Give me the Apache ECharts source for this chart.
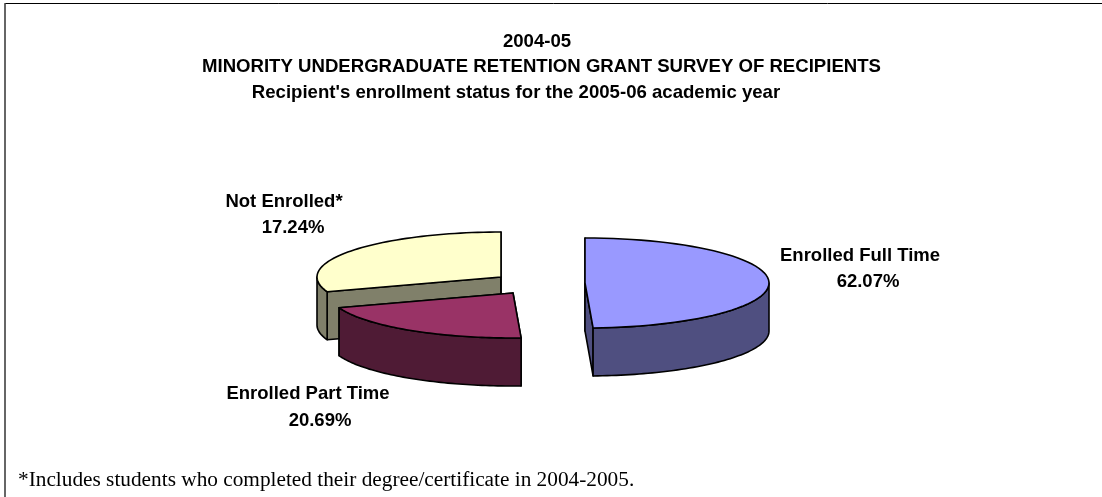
<!DOCTYPE html>
<html>
<head>
<meta charset="utf-8">
<style>
html,body{margin:0;padding:0;background:#fff;}
#chart{width:1102px;height:497px;}
</style>
<script src="https://cdn.jsdelivr.net/npm/echarts@6/dist/echarts.min.js"></script>
</head>
<body>
<div id="chart"></div>
<script>
var categories = ['Enrolled Full Time', 'Enrolled Part Time', 'Not Enrolled*'];
// printed on the chart
var printedValues = ['62.07%', '20.69%', '17.24%'];
// share of the circle each slice really takes up in the picture, it does not follow the printed numbers
var drawnShares = [49.3, 20.4, 30.3];
var titleLines = ['2004-05', 'MINORITY UNDERGRADUATE RETENTION GRANT SURVEY OF RECIPIENTS', "Recipient's enrollment status for the 2005-06 academic year"];
var footnote = '*Includes students who completed their degree/certificate in 2004-2005.';

var topColors = ['#9999ff', '#993366', '#ffffcc'];
var sideColors = ['#4f4f80', '#4f1b35', '#80806a'];
// where each exploded slice sits
var centers = [[585, 283], [513, 293], [501, 277]];
var nameAt = [[860, 256], [308, 394], [284, 202]];
var valueAt = [[868, 282], [320, 421], [293, 228]];
var rx = 184, ry = 45, depth = 48;

var total = drawnShares.reduce(function (a, b) { return a + b; }, 0);

function rim(c, from, to, dy) {
  var pts = [];
  for (var i = 0; i <= 60; i++) {
    var a = from + (to - from) * i / 60;
    pts.push([c[0] + rx * Math.sin(a), c[1] + dy - ry * Math.cos(a)]);
  }
  return pts;
}

function renderSlice(params, api) {
  var i = api.value(2);
  var from = api.value(1) / total * Math.PI * 2;
  var to = from + api.value(0) / total * Math.PI * 2;
  var c = centers[i];
  var line = {stroke: '#000', lineWidth: 1.6, lineJoin: 'round'};
  var children = [];
  function poly(points, fill) {
    children.push({type: 'polygon', shape: {points: points}, style: Object.assign({fill: fill}, line)});
  }
  function edge(a) {
    return [c[0] + rx * Math.sin(a), c[1] - ry * Math.cos(a)];
  }
  // cut faces first, then the front wall, top face last
  [from, to].forEach(function (a) {
    var p = edge(a);
    poly([c, p, [p[0], p[1] + depth], [c[0], c[1] + depth]], sideColors[i]);
  });
  // only the part of the rim that faces the viewer has a wall
  var wallFrom = Math.max(from, Math.PI / 2);
  var wallTo = Math.min(to, Math.PI * 1.5);
  if (wallTo > wallFrom) {
    poly(rim(c, wallFrom, wallTo, 0).concat(rim(c, wallTo, wallFrom, depth)), sideColors[i]);
  }
  poly([c].concat(rim(c, from, to, 0)), topColors[i]);
  return {type: 'group', children: children};
}

function textItem(text, pos, size) {
  return {
    type: 'text', x: pos[0], y: pos[1], z: 10,
    style: {text: text, fill: '#000', font: 'bold ' + size + 'px "Liberation Sans"', textAlign: 'center', textVerticalAlign: 'middle'}
  };
}

var chart = echarts.init(document.getElementById('chart'), null, {renderer: 'canvas'});
var offset = 0;
var seriesData = drawnShares.map(function (s, i) {
  var row = {name: categories[i], value: [s, offset, i]};
  offset += s;
  return row;
});
// back slice first so the nearer ones cover it
seriesData.reverse();

var titlePos = [[537, 42], [541.5, 67], [516, 93]];

chart.setOption({
  animation: false,
  backgroundColor: '#fff',
  series: [{
    type: 'custom',
    coordinateSystem: 'none',
    renderItem: renderSlice,
    data: seriesData
  }],
  graphic: [
    {type: 'line', shape: {x1: 4.5, y1: 3.5, x2: 1102, y2: 3.5}, style: {stroke: '#000', lineWidth: 1}},
    {type: 'line', shape: {x1: 5, y1: 3.5, x2: 5, y2: 497}, style: {stroke: '#666', lineWidth: 2}},
    {
      type: 'text', x: 18, y: 480,
      style: {text: footnote, fill: '#000', font: '21.3px "Liberation Serif"', textVerticalAlign: 'middle'}
    }
  ].concat(titleLines.map(function (t, i) {
    return textItem(t, titlePos[i], 18.6);
  })).concat(categories.map(function (n, i) {
    return textItem(n, nameAt[i], 18.5);
  })).concat(printedValues.map(function (v, i) {
    return textItem(v, valueAt[i], 18.5);
  }))
});
</script>
</body>
</html>
